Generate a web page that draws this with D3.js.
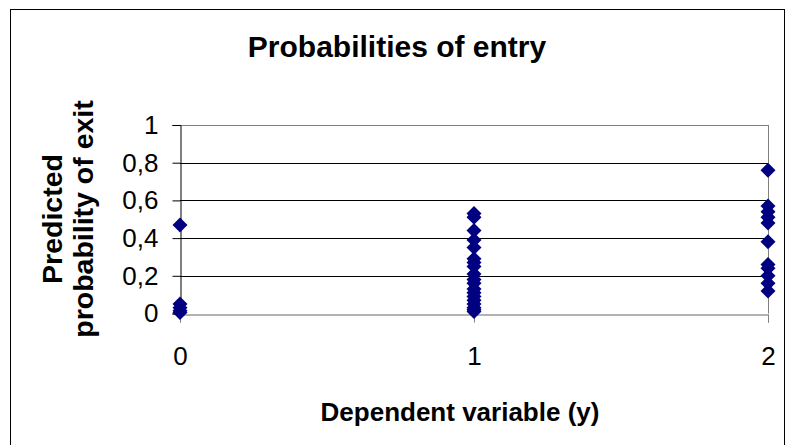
<!DOCTYPE html>
<html>
<head>
<meta charset="utf-8">
<script src="https://cdn.jsdelivr.net/npm/d3@7"></script>
<style>
  body { margin: 0; background: #fff; }
  svg { display: block; font-family: "Liberation Sans", Arial, sans-serif; }
</style>
</head>
<body>
<script>
// Predicted probabilities, one array per value of the dependent variable
var yZero = [0.47, 0.05, 0.03, 0.015, 0.005];
var yOne = [0.53, 0.51, 0.44, 0.39, 0.35, 0.29, 0.27, 0.25, 0.21, 0.18, 0.16,
            0.13, 0.11, 0.09, 0.07, 0.05, 0.03, 0.02, 0.01];
var yTwo = [0.76, 0.57, 0.54, 0.51, 0.48, 0.38, 0.26, 0.24, 0.20, 0.16, 0.12];
var xTicks = [0, 1, 2];
var yTicks = [0, 0.2, 0.4, 0.6, 0.8, 1];

var points = [];
[yZero, yOne, yTwo].forEach(function (vals, i) {
    vals.forEach(function (v) { points.push({x: i, y: v}); });
});

var W = 792, H = 445;
var plot = {left: 180, right: 768, top: 125, bottom: 313.5};

var svg = d3.select("body").append("svg")
    .attr("width", W)
    .attr("height", H);

// Outer chart frame
svg.append("rect")
    .attr("x", 10.5).attr("y", 9.5)
    .attr("width", 774).attr("height", 450)
    .style("fill", "none")
    .style("stroke", "#000");

var x = d3.scaleLinear().domain([0, 2]).range([plot.left, plot.right]);
var y = d3.scaleLinear().domain([0, 1]).range([plot.bottom, plot.top]);

// Gridlines
svg.append("g").selectAll("line")
    .data(yTicks.filter(function (d) { return d > 0; }))
    .enter().append("line")
    .attr("x1", plot.left).attr("x2", plot.right)
    .attr("y1", function (d) { return Math.round(y(d)) + 0.5; })
    .attr("y2", function (d) { return Math.round(y(d)) + 0.5; })
    .style("stroke", function (d) { return d === 1 ? "#808080" : "#000"; });

// Right border of plot area
svg.append("line")
    .attr("x1", plot.right + 0.5).attr("x2", plot.right + 0.5)
    .attr("y1", plot.top).attr("y2", plot.bottom)
    .style("stroke", "#808080");

// Y axis
var yAxis = svg.append("g")
    .attr("transform", "translate(" + (plot.left + 0.5) + ",0)")
    .call(d3.axisLeft(y).tickValues(yTicks).tickSize(8).tickPadding(14)
        .tickFormat(function (d) { return String(d).replace(".", ","); }));
yAxis.selectAll("text").style("font-size", "26px").style("fill", "#000");
yAxis.selectAll("line").style("stroke", "#000");
yAxis.select(".domain").style("stroke", "#000");

// X axis
var xAxis = svg.append("g")
    .attr("transform", "translate(0," + (Math.round(plot.bottom) + 0.5) + ")")
    .call(d3.axisBottom(x).tickValues(xTicks).tickSize(8).tickPadding(24)
        .tickFormat(d3.format("d")));
xAxis.selectAll("text").style("font-size", "26px").style("fill", "#000");
xAxis.selectAll("line").style("stroke", "#808080");
xAxis.select(".domain").style("stroke", "#666");

// Diamond markers
svg.append("g").selectAll("path")
    .data(points)
    .enter().append("path")
    .attr("transform", function (d) { return "translate(" + x(d.x) + "," + y(d.y) + ")"; })
    .attr("d", "M0,-7.5L7.5,0L0,7.5L-7.5,0Z")
    .style("fill", "#000080");

// Titles
svg.append("text")
    .attr("x", 397).attr("y", 57)
    .attr("text-anchor", "middle")
    .style("font-size", "30px").style("font-weight", "bold")
    .text("Probabilities of entry");

svg.append("text")
    .attr("x", 460).attr("y", 421)
    .attr("text-anchor", "middle")
    .style("font-size", "26px").style("font-weight", "bold")
    .text("Dependent variable (y)");

var yTitle = svg.append("text")
    .attr("transform", "translate(0,219) rotate(-90)")
    .attr("text-anchor", "middle")
    .style("font-size", "28.5px").style("font-weight", "bold");
yTitle.append("tspan").attr("x", 0).attr("y", 62).text("Predicted");
yTitle.append("tspan").attr("x", 0).attr("y", 93).text("probability of exit");
</script>
</body>
</html>
